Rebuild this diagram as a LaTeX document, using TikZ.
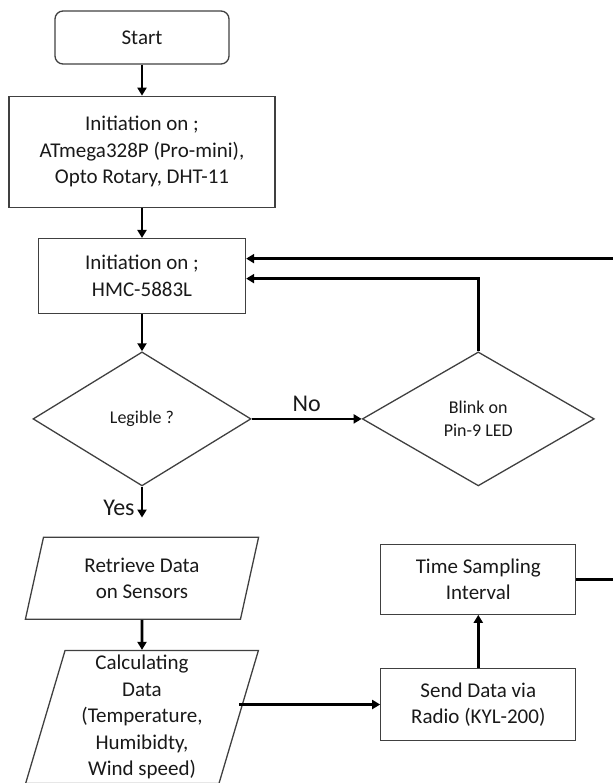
\documentclass[tikz,border=0pt]{standalone}
\usepackage{fontspec}
\setmainfont{Carlito}
\usetikzlibrary{positioning, arrows.meta, shapes.geometric}

\begin{document}
\begin{tikzpicture}[
        box/.style={rectangle, draw=black!75, line width=0.65pt, align=center, text=black!90, inner sep=2pt, font=\fontsize{10.5}{13.3}\selectfont},
        startbox/.style={box, rounded corners=4pt},
        decision/.style={diamond, draw=black!75, line width=0.65pt, align=center, text=black!90, inner sep=0pt, font=\fontsize{9}{11.3}\selectfont},
        iobox/.style={box, trapezium, trapezium left angle=76, trapezium right angle=104, trapezium stretches=true, inner sep=0.5pt},
        answer/.style={font=\fontsize{12}{14}\selectfont, text=black!90, inner sep=3pt},
        arrow/.style={-{Triangle[length=4pt, width=4.5pt]}, line width=1.4pt},
    ]
        % frame of the figure (the loop on the right is cut off)
        \clip (0,0) rectangle (306.5pt,-391.5pt);

        % ====== left column ======
        \node[startbox, minimum width=87pt, minimum height=26.5pt] (start) at (71pt,-18.75pt) {Start};
        \node[box, minimum width=133pt, minimum height=55.5pt, below=15.5pt of start] (init1)
            {Initiation on ;\\ ATmega328P (Pro-mini),\\ Opto Rotary, DHT-11};
        \node[box, minimum width=103.5pt, minimum height=37.5pt, below=15pt of init1] (init2)
            {Initiation on ;\\ HMC-5883L};
        \node[decision, minimum width=109pt, minimum height=67pt, below=18.5pt of init2] (legible) {Legible ?};
        \coordinate[below=15.5pt of legible.south] (yes);
        \node[iobox, minimum width=117pt, minimum height=41pt, below=25pt of legible] (retrieve)
            {Retrieve Data\\ on Sensors};
        \node[iobox, minimum width=117pt, minimum height=66.5pt, below=15pt of retrieve] (calc)
            {Calculating\\ Data\\ (Temperature,\\ Humibidty,\\ Wind speed)};

        % ====== right column ======
        \node[decision, minimum width=116pt, minimum height=67pt, right=55pt of legible] (blink) {Blink on\\ Pin-9 LED};
        \node[box, minimum width=97.5pt, minimum height=35pt, below=28.5pt of blink] (tsi)
            {Time Sampling\\ Interval};
        \node[box, minimum width=97.5pt, minimum height=36pt, below=26.5pt of tsi] (send)
            {Send Data via\\ Radio (KYL-200)};
        \coordinate[right=40pt of tsi.east] (back);

        % ====== arrows ======
        \draw[arrow] (start) -- (init1);
        \draw[arrow] (init1) -- (init2);
        \draw[arrow] (init2) -- (legible);
        \draw[arrow] (legible.east) -- node[answer, above] {No} (blink.west);
        \draw[arrow] (legible.south) -- node[answer, left, pos=0.7] {Yes} (yes);
        \draw[arrow] (retrieve) -- (calc);
        \draw[arrow] (calc.east |- send.west) -- (send.west);
        \draw[arrow] (send) -- (tsi);

        % back to the HMC-5883L initiation
        \draw[arrow] (blink.north) |- ([yshift=-1.25pt]init2.east);
        \draw[arrow] (tsi.east) -- (back) |- ([yshift=8.75pt]init2.east);
    \end{tikzpicture}
\end{document}
